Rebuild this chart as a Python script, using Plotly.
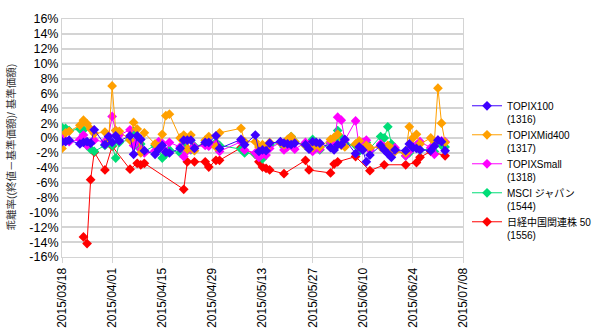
import plotly.graph_objects as go

dates = [
    "2015-03-18", "2015-03-19", "2015-03-20", "2015-03-23", "2015-03-24", "2015-03-25", "2015-03-26", "2015-03-27",
    "2015-03-30", "2015-03-31", "2015-04-01", "2015-04-02", "2015-04-03", "2015-04-06", "2015-04-07", "2015-04-08",
    "2015-04-09", "2015-04-10", "2015-04-13", "2015-04-14", "2015-04-15", "2015-04-16", "2015-04-17", "2015-04-20",
    "2015-04-21", "2015-04-22", "2015-04-23", "2015-04-24", "2015-04-27", "2015-04-28", "2015-04-30", "2015-05-01",
    "2015-05-07", "2015-05-08", "2015-05-11", "2015-05-12", "2015-05-13", "2015-05-14", "2015-05-15", "2015-05-18",
    "2015-05-19", "2015-05-20", "2015-05-21", "2015-05-22", "2015-05-25", "2015-05-26", "2015-05-27", "2015-05-28",
    "2015-05-29", "2015-06-01", "2015-06-02", "2015-06-03", "2015-06-04", "2015-06-05", "2015-06-08", "2015-06-09",
    "2015-06-10", "2015-06-11", "2015-06-12", "2015-06-15", "2015-06-16", "2015-06-17", "2015-06-18", "2015-06-19",
    "2015-06-22", "2015-06-23", "2015-06-24", "2015-06-25", "2015-06-26", "2015-06-29", "2015-06-30", "2015-07-01",
    "2015-07-02", "2015-07-03",
]

topix100 = [
    -0.5, -0.5, -0.3, -0.8, -0.6, -0.5, -0.7, 1.1,
    -0.9, 0.2, -0.6, 0.3, -0.4, 0.3, -2.2, 0.3,
    -0.2, -1.7, -2.2, -1.5, -1.0, -1.9, -2.0, -1.4,
    -0.3, -0.3, -0.3, -1.4, -0.6, -0.6, 0.3, -1.4,
    -0.2, -0.9, 0.4, -1.8, -1.6, -1.7, -0.7, -0.5,
    -0.7, -0.8, -0.9, -0.7, -0.9, -1.5, -0.5, -0.6,
    -0.7, -1.3, -1.6, -0.9, -0.9, -0.2, -2.1, -1.2,
    -1.6, -3.2, -2.3, -1.0, -1.6, -2.1, -2.6, -1.6,
    -1.7, -0.8, -1.3, -1.4, -1.6, -1.7, -1.1, -0.3,
    -0.5, -1.7,
]

topix_mid400 = [
    -1.4, 0.7, 0.9, 1.7, 2.4, 1.9, 1.2, 0.6,
    0.8, -0.4, 7.0, 1.0, 0.9, -0.3, 2.1, 1.2,
    -2.0, 0.7, -0.8, -1.2, 0.5, 3.0, 3.2, 0.0,
    0.4, -1.5, 0.4, -1.7, -0.3, 0.2, -1.2, 0.7,
    1.3, -0.5, -0.5, -1.2, -0.9, -1.4, -0.6, -0.6,
    -0.9, -0.2, 0.2, -0.5, -1.0, -1.3, -1.3, -0.7,
    -1.2, -0.2, 0.1, 0.5, -1.0, -1.2, -0.8, -0.4,
    -1.5, -1.0, -1.3, -1.2, -1.5, -1.0, -1.4, -1.8,
    -2.0, 1.5, 0.0, 0.5, -0.8, 0.0, -0.5, 6.7,
    2.0, -0.6,
]

topix_small = [
    0.0, -0.3, -0.5, -0.2, 0.4, -1.0, -0.7, -0.3,
    -0.5, 0.3, 2.9, 1.0, 0.4, 1.1, -1.0, -0.3,
    -1.5, -2.0, -1.7, -0.5, -0.7, -1.8, -0.6, -1.2,
    -2.5, -1.7, -1.5, -1.2, -1.0, -1.1, -0.8, -1.8,
    -0.5, -1.6, -2.0, -2.6, -2.2, -2.3, -1.4, -0.6,
    -1.6, -1.2, -0.5, -1.5, -0.6, -0.9, -1.8, -1.3,
    -1.5, -0.5, -0.8, 2.8, 2.4, -0.3, 2.3, -1.2,
    -0.6, -0.3, -1.6, -0.8, -1.2, -2.0, -1.5, -1.3,
    -2.4, -1.8, -1.1, -1.0, -0.5, -1.3, -2.2, -0.3,
    -0.4, -0.5,
]

msci_japan = [
    1.4, 1.3, 1.0, 1.2, 1.1, -1.0, -1.5, -1.8,
    -1.0, -0.5, -1.0, -2.7, -0.6, -0.2, 0.9, -1.1,
    -0.8, -1.8, -1.0, -1.5, -2.7, -2.2, -1.6, -2.0,
    -0.8, -1.4, -1.6, -1.1, -0.8, -1.0, -0.6, -1.0,
    -1.5, -2.0, -2.2, -2.5, -2.8, -1.5, -1.0, -0.6,
    -1.2, -0.9, 0.2, -0.5, -1.0, -0.8, -0.2, -0.7,
    -1.6, -0.7, -0.3, 1.0, 0.0, -0.7, -1.0, -1.8,
    -1.4, -0.6, -1.4, 0.2, 0.0, 1.5, -0.8, -1.5,
    -2.4, -2.0, -1.2, -1.0, -1.6, -1.5, -1.8, -0.6,
    -1.0, -1.2,
]

nikkei_china50 = [
    None, None, None, None, -13.3, -14.2, -5.6, -1.9,
    -4.3, None, -1.1, None, None, -4.2, None, -3.4,
    -3.6, -3.4, None, None, None, None, None, None,
    -6.9, -3.2, None, -3.2, -3.2, -3.9, -3.0, -3.0,
    -1.3, None, -2.2, -3.2, -3.9, -4.1, -4.3, None,
    -4.8, None, None, None, -3.0, -4.3, None, None,
    None, -4.7, -3.5, -3.2, None, None, -2.5, None,
    None, None, -4.4, None, -3.6, None, None, None,
    -3.6, None, None, -3.3, -2.6, -1.8, None, None,
    None, -2.4,
]

series_names = [
    "TOPIX100<br>(1316)",
    "TOPIXMid400<br>(1317)",
    "TOPIXSmall<br>(1318)",
    "MSCI ジャパン<br>(1544)",
    "日経中国関連株 50<br>(1556)",
]
series_values = [topix100, topix_mid400, topix_small, msci_japan, nikkei_china50]
series_colors = ["#3d00ff", "#ffa000", "#ff00ff", "#00dd77", "#ff0000"]

tick_dates = ["2015-03-18", "2015-04-01", "2015-04-15", "2015-04-29", "2015-05-13",
              "2015-05-27", "2015-06-10", "2015-06-24", "2015-07-08"]
tick_labels = [d.replace("-", "/") for d in tick_dates]
y_ticks = list(range(-16, 17, 2))
y_title = "乖離率((終値－基準価額)/ 基準価額)"

font_family = "Liberation Sans, Arial, Noto Sans CJK JP, sans-serif"

fig = go.Figure()
# draw in reverse so the first series sits on top; legend order is reversed back
for name, vals, col in reversed(list(zip(series_names, series_values, series_colors))):
    fig.add_trace(go.Scatter(
        x=dates, y=vals, name=name, mode="lines+markers",
        connectgaps=True,
        line=dict(color=col, width=1),
        marker=dict(symbol="diamond", size=7.5, color=col),
    ))

grid = "#d4d4d4"
fig.update_layout(
    width=600, height=335,
    margin=dict(l=62, r=137, t=19, b=78, autoexpand=False),
    paper_bgcolor="white", plot_bgcolor="white",
    font=dict(family=font_family, size=11, color="#000"),
    showlegend=True,
    legend=dict(
        x=1.01, y=0.69, xanchor="left", yanchor="top",
        font=dict(size=10, family=font_family),
        valign="top", tracegroupgap=0, itemwidth=30,
        traceorder="reversed",
        bgcolor="rgba(0,0,0,0)",
    ),
    xaxis=dict(
        type="date",
        range=["2015-03-18", "2015-07-08"],
        tickvals=tick_dates, ticktext=tick_labels,
        tickangle=-90,
        showgrid=True, gridcolor=grid, gridwidth=1,
        zeroline=False,
        showline=True, linecolor=grid, mirror=True,
        ticks="outside", ticklen=5, tickcolor=grid,
        tickfont=dict(size=12),
        automargin=False,
    ),
    yaxis=dict(
        range=[-16, 16],
        tickvals=y_ticks, ticktext=[f"{v}%" for v in y_ticks],
        showgrid=True, gridcolor=grid, gridwidth=1.5,
        zeroline=False,
        showline=True, linecolor=grid, mirror=True,
        ticks="", tickfont=dict(size=12.5),
        automargin=False,
    ),
    annotations=[dict(
        text=y_title, textangle=-90,
        xref="paper", yref="paper",
        x=-(62 - 11) / 401, y=0.46,
        xanchor="center", yanchor="middle",
        showarrow=False, font=dict(size=10.5, color="#333"),
    )],
)

fig.write_html("out.html")
